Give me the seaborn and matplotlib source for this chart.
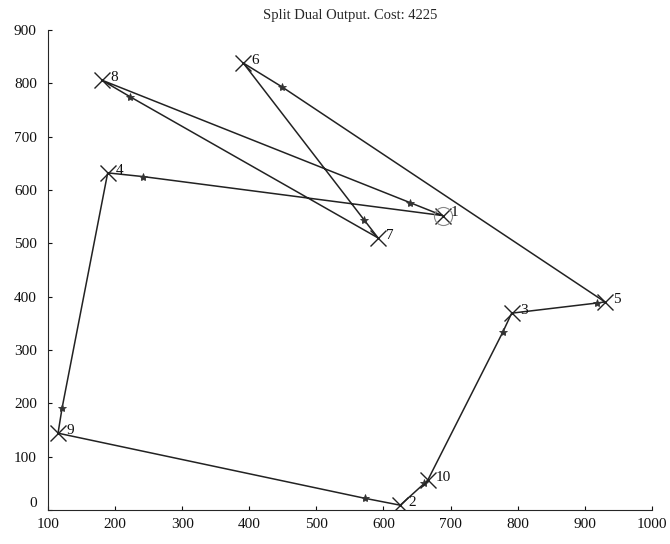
import matplotlib
matplotlib.use("Agg")
import matplotlib.pyplot as plt
import seaborn as sns
import pandas as pd

# city positions
city_labels = ["1", "2", "3", "4", "5", "6", "7", "8", "9", "10"]
city_x = [688, 625, 791, 189, 930, 391, 592, 180, 115, 666]
city_y = [552, 9, 369, 632, 390, 838, 510, 806, 144, 56]

# tour order and the small '*' waypoint that sits near the start of each leg
tour = ["1", "8", "7", "6", "5", "3", "10", "2", "9", "4", "1"]
waypoint_x = [640, 222, 571, 449, 918, 778, 661, 572, 121, 242]
waypoint_y = [576, 775, 544, 793, 388, 334, 50, 22, 191, 625]

title = "Split Dual Output. Cost: 4225"

sns.set_style("ticks")
plt.rcParams["font.family"] = ["Liberation Serif", "DejaVu Serif"]
plt.rcParams["xtick.direction"] = "in"
plt.rcParams["ytick.direction"] = "in"

cities = pd.DataFrame({"label": city_labels, "x": city_x, "y": city_y}).set_index("label")

# build the polyline: city -> waypoint -> next city ...
path_x, path_y = [], []
for i, name in enumerate(tour[:-1]):
    path_x += [cities.loc[name, "x"], waypoint_x[i]]
    path_y += [cities.loc[name, "y"], waypoint_y[i]]
path_x.append(cities.loc[tour[-1], "x"])
path_y.append(cities.loc[tour[-1], "y"])
path = pd.DataFrame({"x": path_x, "y": path_y})

fig = plt.figure(figsize=(6.7, 5.44), dpi=100)
ax = fig.add_axes([0.0716, 0.0625, 0.9014, 0.8825])

sns.lineplot(data=path, x="x", y="y", sort=False, estimator=None,
             color="#222222", linewidth=1.1, ax=ax)
ax.plot(waypoint_x, waypoint_y, linestyle="none", marker="*",
        markersize=6, color="#333333", markeredgewidth=0.6)
ax.plot(city_x, city_y, linestyle="none", marker="x",
        markersize=11, color="#222222", markeredgewidth=1.0)
# depot circle
ax.plot(city_x[0], city_y[0], linestyle="none", marker="o", markersize=13,
        markerfacecolor="none", markeredgecolor="#888888", markeredgewidth=0.8)

for lab, xv, yv in zip(city_labels, city_x, city_y):
    ax.annotate(lab, (xv, yv), xytext=(6, 2), textcoords="offset points",
                ha="left", va="center", fontsize=11, color="#111111")

ax.set_xlim(100, 1000)
ax.set_ylim(0, 900)
ax.set_xticks(range(100, 1001, 100))
ax.set_yticks(range(0, 901, 100))
ax.tick_params(labelsize=11, length=3, width=0.8, colors="#111111")
ax.tick_params(axis="x", pad=6)
ax.tick_params(axis="y", pad=8)
# nudge the "0" label up a little so it clears the "100" below it
ax.get_yticklabels()[0].set_verticalalignment("bottom")
ax.set_xlabel("")
ax.set_ylabel("")
ax.set_title(title, fontsize=10.5, pad=8)
sns.despine(ax=ax)

fig.savefig("out.png", dpi=100)
